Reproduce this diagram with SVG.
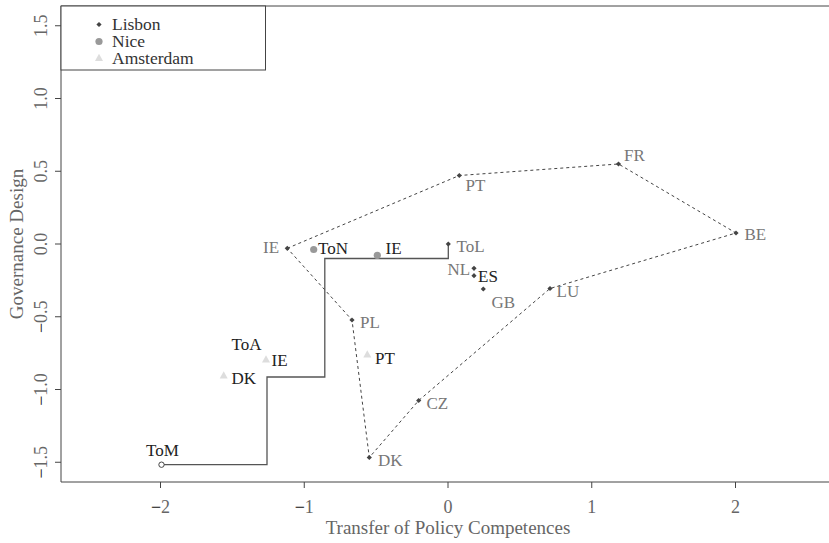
<svg xmlns="http://www.w3.org/2000/svg" width="829" height="543" viewBox="0 0 829 543">
  <style>
    text { font-family: "Liberation Serif", "Times New Roman", serif; }
    .lab { font-size: 17px; }
    .lis { fill: #777; }
    .blk { fill: #222; }
    .tick { font-size: 18px; fill: #666; }
    .ttl { font-size: 19px; fill: #666; }
    .minus { fill: #111; }
    .axis { stroke: #444; stroke-width: 1; fill: none; }
    .hull { stroke: #444; stroke-width: 1; stroke-dasharray: 3 3; fill: none; }
    .path { stroke: #555; stroke-width: 1.3; fill: none; }
    .lisbon { fill: #444; }
    .nice { fill: #999; }
    .ams { fill: #ddd; }
  </style>
  <defs>
    <path id="dia" d="M0,-2.6 L2.6,0 L0,2.6 L-2.6,0 Z"/>
    <path id="tri" d="M0,-4.2 L4,3 L-4,3 Z"/>
  </defs>

  <rect width="829" height="543" fill="#fff"/>

  <!-- plot frame -->
  <g id="frame">
    <path class="axis" d="M61,6 H840 M61,6 V482 H840"/>
    <!-- y ticks -->
    <path class="axis" d="M55,25.75 H61 M55,98.5 H61 M55,171.25 H61 M55,244 H61 M55,316.75 H61 M55,389.5 H61 M55,462.25 H61"/>
    <!-- x ticks -->
    <path class="axis" d="M160.5,482 V488 M304.25,482 V488 M448,482 V488 M591.75,482 V488 M735.5,482 V488"/>
  </g>

  <g id="y-axis-labels" class="tick" text-anchor="middle">
    <text transform="translate(47,25.75) rotate(-90)">1.5</text>
    <text transform="translate(47,98.5) rotate(-90)">1.0</text>
    <text transform="translate(47,171.25) rotate(-90)">0.5</text>
    <text transform="translate(47,244) rotate(-90)">0.0</text>
    <text transform="translate(47,316.75) rotate(-90)"><tspan class="minus">−</tspan>0.5</text>
    <text transform="translate(47,389.5) rotate(-90)"><tspan class="minus">−</tspan>1.0</text>
    <text transform="translate(47,462.25) rotate(-90)"><tspan class="minus">−</tspan>1.5</text>
  </g>
  <g id="x-axis-labels" class="tick" text-anchor="middle">
    <text x="160.5" y="513"><tspan class="minus">−</tspan>2</text>
    <text x="304.25" y="513"><tspan class="minus">−</tspan>1</text>
    <text x="448" y="513">0</text>
    <text x="591.75" y="513">1</text>
    <text x="735.5" y="513">2</text>
  </g>
  <text class="ttl" x="448" y="534" text-anchor="middle">Transfer of Policy Competences</text>
  <text class="ttl" transform="translate(23,244) rotate(-90)" text-anchor="middle">Governance Design</text>

  <!-- legend -->
  <g id="legend">
    <rect x="61" y="6" width="204.5" height="64" fill="#fff" stroke="#444" stroke-width="1"/>
    <use href="#dia" class="lisbon" x="99" y="24.5"/>
    <circle class="nice" cx="99" cy="41.5" r="3.6"/>
    <use href="#tri" class="ams" x="99" y="58"/>
    <g font-size="17.5" fill="#333">
      <text x="112" y="30">Lisbon</text>
      <text x="112" y="47">Nice</text>
      <text x="112" y="63.5">Amsterdam</text>
    </g>
  </g>

  <!-- connectors -->
  <g id="connectors">
    <path class="hull" d="M287.3,248.3 L459.3,175.5 L618.5,164 L736,233 L550,288.5 L418.7,400.5 L369.3,457.5 L352,320 Z"/>
    <path class="path" d="M161.5,464.7 H267 V377 H324.8 V258.5 H448.3 V244"/>
  </g>

  <!-- Lisbon -->
  <g id="lisbon-IE"><use href="#dia" class="lisbon" x="287.3" y="248.3"/><text class="lab lis" x="263" y="253">IE</text></g>
  <g id="lisbon-PT"><use href="#dia" class="lisbon" x="459.3" y="175.5"/><text class="lab lis" x="465.5" y="190.5">PT</text></g>
  <g id="lisbon-FR"><use href="#dia" class="lisbon" x="618.5" y="164"/><text class="lab lis" x="624" y="161">FR</text></g>
  <g id="lisbon-BE"><use href="#dia" class="lisbon" x="736" y="233"/><text class="lab lis" x="744.5" y="240">BE</text></g>
  <g id="lisbon-LU"><use href="#dia" class="lisbon" x="550" y="288.5"/><text class="lab lis" x="556.5" y="297">LU</text></g>
  <g id="lisbon-CZ"><use href="#dia" class="lisbon" x="418.7" y="400.5"/><text class="lab lis" x="426.5" y="408.5">CZ</text></g>
  <g id="lisbon-DK"><use href="#dia" class="lisbon" x="369.3" y="457.5"/><text class="lab lis" x="378" y="466">DK</text></g>
  <g id="lisbon-PL"><use href="#dia" class="lisbon" x="352" y="320"/><text class="lab lis" x="360" y="327.5">PL</text></g>
  <g id="lisbon-NL"><use href="#dia" class="lisbon" x="474" y="268.3"/><text class="lab lis" x="447.5" y="275">NL</text></g>
  <g id="lisbon-ES"><use href="#dia" class="lisbon" x="474" y="275.7"/><text class="lab blk" x="478" y="282">ES</text></g>
  <g id="lisbon-GB"><use href="#dia" class="lisbon" x="483.3" y="289"/><text class="lab lis" x="491.5" y="308">GB</text></g>
  <g id="ToL"><use href="#dia" class="lisbon" x="448.3" y="244"/><text class="lab lis" x="456.5" y="251.5">ToL</text></g>

  <!-- Nice -->
  <g id="ToN"><circle class="nice" cx="313.7" cy="249.5" r="3.6"/><text class="lab blk" x="318" y="254">ToN</text></g>
  <g id="nice-IE"><circle class="nice" cx="377.3" cy="255.3" r="3.6"/><text class="lab blk" x="385.5" y="254">IE</text></g>

  <!-- Amsterdam -->
  <g id="ToA"><text class="lab blk" x="231.5" y="349.5">ToA</text></g>
  <g id="ams-IE"><use href="#tri" class="ams" x="266" y="359.5"/><text class="lab blk" x="271.5" y="365.5">IE</text></g>
  <g id="ams-DK"><use href="#tri" class="ams" x="223.7" y="375.5"/><text class="lab blk" x="231.5" y="384">DK</text></g>
  <g id="ams-PT"><use href="#tri" class="ams" x="367.3" y="354.5"/><text class="lab blk" x="375" y="363.5">PT</text></g>

  <!-- Maastricht -->
  <g id="ToM"><circle cx="161.5" cy="464.7" r="2.7" fill="#fff" stroke="#444" stroke-width="1"/><text class="lab blk" x="146" y="456">ToM</text></g>
</svg>
